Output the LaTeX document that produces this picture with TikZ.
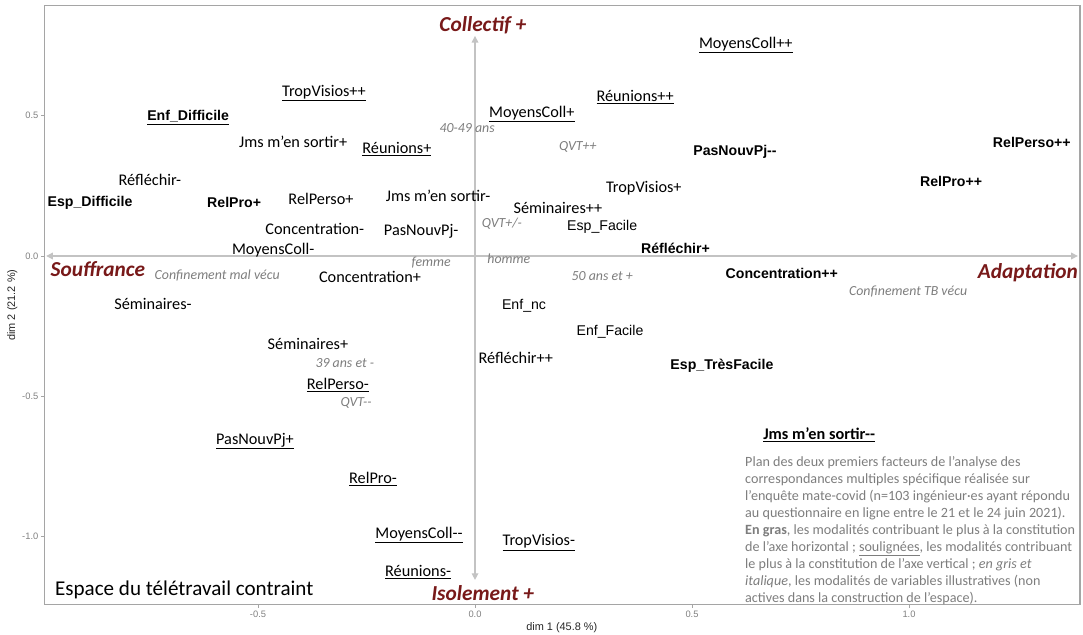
\documentclass[tikz,border=0pt]{standalone}
\usepackage{fontspec}
\setmainfont{Carlito}
\newfontfamily\arialfont{Liberation Sans}
\usepackage{xcolor}
\usetikzlibrary{arrows.meta}
\definecolor{polered}{RGB}{120,25,25}
\definecolor{illusgray}{RGB}{125,125,125}
\definecolor{panelgray}{RGB}{165,165,165}
\definecolor{axisgray}{RGB}{195,195,195}
\newcommand{\mmoins}{-\kern0pt-}
\tikzset{
    panel/.style={draw=panelgray, line width=0.8pt},
    axisline/.style={draw=axisgray, line width=0.9pt, {Triangle[length=5pt, width=5pt]}-{Triangle[length=5pt, width=5pt]}},
    tickmark/.style={draw=panelgray, line width=0.6pt},
    ticklab/.style={font=\arialfont\fontsize{7}{8}\selectfont, text=black!50, inner sep=0pt},
    axtitle/.style={font=\arialfont\fontsize{8.2}{9}\selectfont, text=black!85, inner sep=0pt},
    mod/.style={font=\fontsize{12.2}{14}\selectfont, inner sep=0pt},
    modbold/.style={font=\arialfont\bfseries\fontsize{10.6}{12}\selectfont, inner sep=0pt},
    modarial/.style={font=\arialfont\fontsize{10.6}{12}\selectfont, inner sep=0pt},
    souligne/.style={yshift=-1.6pt},
    illus/.style={font=\itshape\fontsize{10.4}{12}\selectfont, text=illusgray, inner sep=0pt},
    pole/.style={font=\bfseries\itshape\fontsize{16}{18}\selectfont, text=polered, inner sep=0pt},
    caption/.style={font=\fontsize{10.6}{12.75}\selectfont, text=illusgray, align=left, inner sep=0pt}
}

\begin{document}
\begin{tikzpicture}[x=325.5pt, y=210.525pt]
    \useasboundingbox (-1.0945,-1.3502) rectangle (1.4009,0.9120);

    % Panel and ticks
    \draw[panel] (-0.993,-1.243) rectangle (1.394,0.891);
    \foreach \t/\lab [count=\i] in {-0.5/-0.5, 0/0.0, 0.5/0.5, 1/1.0} {
        \draw[tickmark] (\t,-1.243) -- ++(0,-2.5pt) node[ticklab, below=1.5pt] (xtick\i) {\lab};
    }
    \foreach \t/\lab [count=\i] in {0.5/0.5, 0/0.0, -0.5/-0.5, -1/-1.0} {
        \draw[tickmark] (-0.993,\t) -- ++(-2.5pt,0) node[ticklab, left=1.5pt] (ytick\i) {\lab};
    }
    \node[axtitle] (dimone) at (0.200,-1.323) {dim 1 (45.8 \%)};
    \node[axtitle, rotate=90] (dimtwo) at (-1.066,-0.175) {dim 2 (21.2 \%)};

    % Axes
    \coordinate (west) at (-0.988,0);
    \coordinate (east) at (1.389,0);
    \coordinate (north) at (0,0.784);
    \coordinate (south) at (0,-1.154);
    \draw[axisline] (west) -- (east);
    \draw[axisline] (north) -- (south);

    % Poles
    \node[pole] (collectif) at (0.018,0.823) {Collectif +};
    \node[pole] (isolement) at (0.018,-1.201) {Isolement +};
    \node[pole] (souffrance) at (-0.869,-0.046) {Souffrance};
    \node[pole] (adaptation) at (1.274,-0.058) {Adaptation};

    % Modalities contributing to axis 1 (bold)
    \node[modbold] (espDiff) at (-0.887,0.189) {Esp\_Difficile};
    \node[modbold] (relProP) at (-0.555,0.189) {RelPro+};
    \node[modbold] (pasNouvMM) at (0.599,0.371) {PasNouvPj\mmoins};
    \node[modbold] (relPersoPP) at (1.283,0.403) {RelPerso++};
    \node[modbold] (relProPP) at (1.097,0.264) {RelPro++};
    \node[modbold] (reflP) at (0.462,0.028) {Réfléchir+};
    \node[modbold] (concPP) at (0.707,-0.061) {Concentration++};
    \node[modbold] (espTresFac) at (0.569,-0.392) {Esp\_TrèsFacile};
    \node[modbold, souligne] (enfDiff) at (-0.661,0.499) {\underline{Enf\_Difficile}};
    \node[mod, souligne, font=\bfseries\fontsize{12.2}{14}\selectfont] (jmsMM) at (0.793,-0.631) {\underline{Jms m’en sortir\mmoins}};

    % Modalities contributing to axis 2 (underlined)
    \node[mod, souligne] (moyCollPP) at (0.624,0.759) {\underline{MoyensColl++}};
    \node[mod, souligne] (tropVisPP) at (-0.348,0.588) {\underline{TropVisios++}};
    \node[mod, souligne] (moyCollP) at (0.131,0.513) {\underline{MoyensColl+}};
    \node[mod, souligne] (reunPP) at (0.369,0.574) {\underline{Réunions++}};
    \node[mod, souligne] (reunP) at (-0.180,0.388) {\underline{Réunions+}};
    \node[mod, souligne] (relPersoM) at (-0.316,-0.452) {\underline{RelPerso-}};
    \node[mod, souligne] (pasNouvP) at (-0.507,-0.652) {\underline{PasNouvPj+}};
    \node[mod, souligne] (relProM) at (-0.235,-0.787) {\underline{RelPro-}};
    \node[mod, souligne] (moyCollMM) at (-0.129,-0.987) {\underline{MoyensColl\mmoins}};
    \node[mod, souligne] (tropVisM) at (0.147,-1.015) {\underline{TropVisios-}};
    \node[mod, souligne] (reunM) at (-0.131,-1.119) {\underline{Réunions-}};

    % Other active modalities
    \node[mod] (jmsP) at (-0.419,0.406) {Jms m’en sortir+};
    \node[mod] (reflM) at (-0.749,0.271) {Réfléchir-};
    \node[mod] (tropVisP) at (0.389,0.242) {TropVisios+};
    \node[mod] (relPersoP) at (-0.355,0.203) {RelPerso+};
    \node[mod] (jmsM) at (-0.085,0.214) {Jms m’en sortir-};
    \node[mod] (semPP) at (0.191,0.171) {Séminaires++};
    \node[mod] (concM) at (-0.369,0.096) {Concentration-};
    \node[mod] (pasNouvM) at (-0.124,0.089) {PasNouvPj-};
    \node[modarial] (espFac) at (0.293,0.103) {Esp\_Facile};
    \node[mod] (moyCollM) at (-0.465,0.021) {MoyensColl-};
    \node[mod] (concP) at (-0.242,-0.075) {Concentration+};
    \node[mod] (semM) at (-0.742,-0.171) {Séminaires-};
    \node[modarial] (enfNc) at (0.113,-0.178) {Enf\_nc};
    \node[modarial] (enfFac) at (0.311,-0.271) {Enf\_Facile};
    \node[mod] (semP) at (-0.385,-0.313) {Séminaires+};
    \node[mod] (reflPP) at (0.094,-0.363) {Réfléchir++};

    % Illustrative modalities
    \node[illus] (ageMid) at (-0.018,0.456) {40-49 ans};
    \node[illus] (qvtPP) at (0.237,0.388) {QVT++};
    \node[illus] (qvtPM) at (0.062,0.114) {QVT+/-};
    \node[illus] (femme) at (-0.101,-0.022) {femme};
    \node[illus] (homme) at (0.078,-0.009) {homme};
    \node[illus] (confMal) at (-0.594,-0.071) {Confinement mal vécu};
    \node[illus] (ageOld) at (0.293,-0.073) {50 ans et +};
    \node[illus] (confTB) at (0.998,-0.125) {Confinement TB vécu};
    \node[illus] (ageYoung) at (-0.300,-0.381) {39 ans et -};
    \node[illus] (qvtMM) at (-0.274,-0.524) {QVT\mmoins};

    % Title and caption
    \node[anchor=west, inner sep=0pt, font=\fontsize{15.8}{18}\selectfont] (titre) at (-0.968,-1.190) {Espace du télétravail contraint};
    \node[caption, anchor=north west] (legende) at (0.622,-0.713) {Plan des deux premiers facteurs de l’analyse des\\
        correspondances multiples spécifique réalisée sur\\
        l’enquête mate-covid (n=103 ingénieur·es ayant répondu\\
        au questionnaire en ligne entre le 21 et le 24 juin 2021).\\
        \textbf{En gras}, les modalités contribuant le plus à la constitution\\
        de l’axe horizontal ; \underline{soulignées}, les modalités contribuant\\
        le plus à la constitution de l’axe vertical ; \textit{en gris et}\\
        \textit{italique}, les modalités de variables illustratives (non\\
        actives dans la construction de l’espace).};
\end{tikzpicture}
\end{document}
